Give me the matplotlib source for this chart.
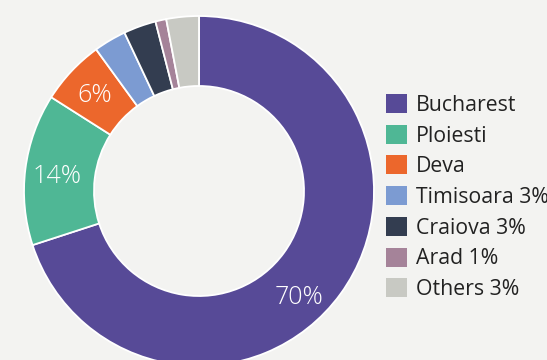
import matplotlib
matplotlib.use('Agg')
import matplotlib.pyplot as plt
import numpy as np

plt.rcParams['font.family'] = ['Open Sans', 'DejaVu Sans']

cities = ['Bucharest', 'Ploiesti', 'Deva', 'Timisoara', 'Craiova', 'Arad', 'Others']
shares = [70, 14, 6, 3, 3, 1, 3]
legend_labels = ['Bucharest', 'Ploiesti', 'Deva', 'Timisoara 3%', 'Craiova 3%', 'Arad 1%', 'Others 3%']
show_label = [True, True, True, False, False, False, False]
colors = ['#574a97', '#4fb795', '#ec672c', '#7c9bd2', '#333d50', '#a58399', '#c8c9c3']

# where the big slice's label sits (degrees), others use the slice middle
label_angle = {0: -46}

bg = '#f3f3f1'
W, H = 547, 360
fig = plt.figure(figsize=(W / 100, H / 100), dpi=100, facecolor=bg)

# donut centre ~ (199, 191) px from top-left, outer radius ~175 px
cx, cy, R = 199, 191, 175
ax = fig.add_axes([(cx - R) / W, (H - cy - R) / H, 2 * R / W, 2 * R / H])
ax.set_facecolor(bg)

wedges, _ = ax.pie(shares, colors=colors, startangle=90, counterclock=False,
                   radius=1.0, wedgeprops=dict(width=0.4, edgecolor='white', linewidth=1.3))
for w in wedges:
    w.set_clip_on(False)

# percentage labels inside the ring
ang = 90.0
for i, (s, show) in enumerate(zip(shares, show_label)):
    mid = ang - s * 3.6 / 2
    ang -= s * 3.6
    if show:
        a = label_angle.get(i, mid)
        r = 0.82
        ax.text(r * np.cos(np.radians(a)), r * np.sin(np.radians(a)), '{}%'.format(s),
                color='white', fontsize=18, ha='center', va='center_baseline', fontweight='light')

ax.set_xlim(-1, 1)
ax.set_ylim(-1, 1)
ax.axis('off')

leg = fig.legend(wedges, legend_labels, loc='upper left',
                 bbox_to_anchor=(386 / W, 1 - 94 / H), frameon=False,
                 fontsize=15.3, handlelength=1.0, handleheight=1.0,
                 handletextpad=0.42, labelspacing=0.42, borderpad=0, borderaxespad=0)
for t in leg.get_texts():
    t.set_color('#222222')
for h in leg.legend_handles:
    h.set_edgecolor('none')

fig.savefig('out.png', dpi=100, facecolor=bg)
